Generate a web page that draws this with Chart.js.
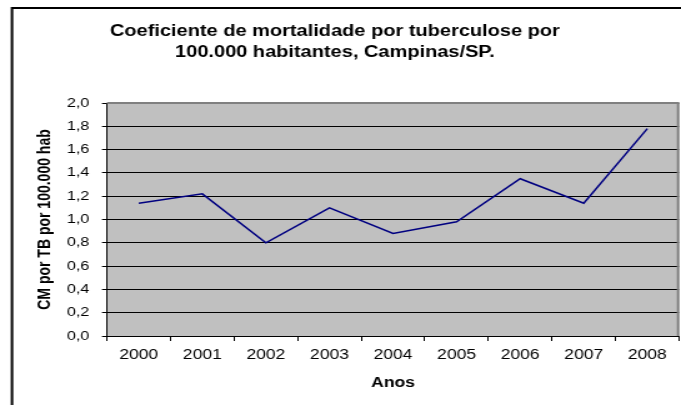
<!DOCTYPE html>
<html>
<head>
<meta charset="utf-8">
<script src="https://cdn.jsdelivr.net/npm/chart.js@4/dist/chart.umd.min.js"></script>
<style>
  html, body { margin: 0; padding: 0; background: #fff; overflow: hidden; }
  #wrap { width: 681px; height: 405px; overflow: hidden; }
  /* the original picture is stretched sideways, so draw narrow and widen */
  #chart { transform: scaleX(1.2495); transform-origin: 0 0; }
</style>
</head>
<body>
<div id="wrap"><canvas id="chart" width="545" height="405"></canvas></div>
<script>
// data
const years = ['2000', '2001', '2002', '2003', '2004', '2005', '2006', '2007', '2008']
const coef = [1.14, 1.22, 0.80, 1.10, 0.88, 0.98, 1.35, 1.14, 1.78]
const yTicks = [0, 0.2, 0.4, 0.6, 0.8, 1.0, 1.2, 1.4, 1.6, 1.8, 2.0]
const titleLines = ['Coeficiente de mortalidade por tuberculose por', '100.000 habitantes, Campinas/SP.']
const yTitle = 'CM por TB por 100.000 hab'
const xTitle = 'Anos'

const FONT = "Arial, 'Liberation Sans', sans-serif"

// grey plot, outer frame and the two-line title
const excelLook = {
    id: 'excelLook',
    beforeDraw(chart) {
        const ctx = chart.ctx
        const a = chart.chartArea
        ctx.save()
        ctx.fillStyle = '#c0c0c0'
        ctx.fillRect(a.left, a.top, a.right - a.left, a.bottom - a.top)
        ctx.strokeStyle = '#000'
        ctx.lineWidth = 2
        ctx.strokeRect(9.6, 8, 700, 500)
        ctx.fillStyle = '#000'
        ctx.font = 'bold 16px ' + FONT
        ctx.textAlign = 'center'
        ctx.textBaseline = 'middle'
        ctx.fillText(titleLines[0], 268, 32)
        ctx.fillText(titleLines[1], 268, 53)
        ctx.restore()
    },
    beforeDatasetsDraw(chart) {
        const ctx = chart.ctx
        const a = chart.chartArea
        ctx.save()
        ctx.strokeStyle = '#808080'
        ctx.lineWidth = 2
        ctx.beginPath()
        ctx.moveTo(a.left, a.top)
        ctx.lineTo(a.right - 0.8, a.top)
        ctx.lineTo(a.right - 0.8, a.bottom)
        ctx.stroke()
        ctx.restore()
    }
}

new Chart(document.getElementById('chart'), {
    type: 'line',
    data: {
        labels: years,
        datasets: [{
            data: coef,
            borderColor: '#000080',
            borderWidth: 1.5,
            pointRadius: 0,
            tension: 0,
            fill: false
        }]
    },
    options: {
        responsive: false,
        animation: false,
        devicePixelRatio: 1,
        layout: { padding: { left: 10, right: 1.5, top: 103, bottom: 0 } },
        plugins: {
            legend: { display: false },
            title: { display: false },
            tooltip: { enabled: false }
        },
        scales: {
            x: {
                offset: true,
                grid: {
                    offset: true,
                    drawOnChartArea: false,
                    tickLength: 5,
                    color: '#000'
                },
                border: { color: '#000', width: 1 },
                ticks: {
                    color: '#000',
                    font: { family: FONT, size: 14 },
                    padding: 6,
                    maxRotation: 0
                },
                title: {
                    display: true,
                    text: xTitle,
                    color: '#000',
                    font: { family: FONT, size: 14, weight: 'bold' },
                    padding: { top: 0, bottom: 13.6 }
                },
                afterFit(s) { s.height = 69 }
            },
            y: {
                min: 0,
                max: 2,
                afterBuildTicks(s) { s.ticks = yTicks.map(v => ({ value: v })) },
                grid: {
                    color: '#000',
                    lineWidth: 1,
                    tickLength: 4
                },
                border: { color: '#000', width: 1 },
                ticks: {
                    color: '#000',
                    font: { family: FONT, size: 13 },
                    padding: 10,
                    callback: v => v.toFixed(1).replace('.', ',')
                },
                title: {
                    display: true,
                    text: yTitle,
                    color: '#000',
                    font: { family: FONT, size: 14, weight: 'bold' },
                    padding: { top: 17.6, bottom: 0 }
                },
                afterFit(s) { s.width = 75.6 }
            }
        }
    },
    plugins: [excelLook]
})
</script>
</body>
</html>
